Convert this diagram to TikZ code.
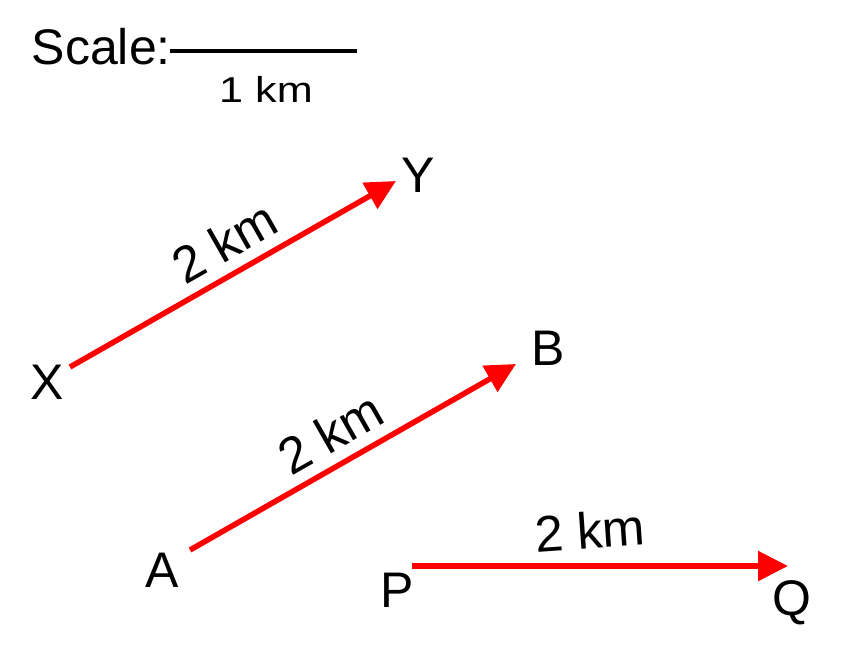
\documentclass[tikz,border=0pt]{standalone}
\usepackage{fontspec}
\setmainfont{Liberation Sans}
\usetikzlibrary{arrows.meta}
\begin{document}
\begin{tikzpicture}[x=1pt,y=-1pt,
  lbl/.style={inner sep=0pt,font=\fontsize{50}{60}\selectfont},
  dist/.style={inner sep=0pt,font=\fontsize{51}{60}\selectfont},
  vec/.style={draw=red,line width=5.5pt,-{Triangle[length=30pt,width=29pt]}}]
\useasboundingbox (0,0) rectangle (843,664);
% scale bar
\node[lbl,anchor=east] (scale) at (171,47) {Scale:};
\coordinate (s1) at (170,51);
\coordinate (s2) at (357,51);
\draw[line width=4.5pt] (s1) -- (s2);
\node[inner sep=0pt,font=\fontsize{36}{44}\selectfont,xscale=1.2] (onekm) at (266,89.5) {1 km};
% X -> Y
\node[lbl] (X) at (47,382) {X};
\node[lbl] (Y) at (418,175) {Y};
\coordinate (x0) at (70,367);
\coordinate (y0) at (396,181);
\draw[vec] (x0) -- (y0);
\node[dist,rotate=29.7] (lxy) at (224,242) {2 km};
% A -> B
\node[lbl] (A) at (162,570) {A};
\node[lbl] (B) at (548,348) {B};
\coordinate (a0) at (190,550);
\coordinate (b0) at (516,364);
\draw[vec] (a0) -- (b0);
\node[dist,rotate=29.7] (lab) at (330,433) {2 km};
% P -> Q
\node[lbl] (P) at (397,590) {P};
\node[lbl] (Q) at (792,603) {Q};
\coordinate (p0) at (412,566);
\coordinate (q0) at (788,566);
\draw[vec] (p0) -- (q0);
\node[dist,rotate=4] (lpq) at (590,530) {2 km};
\end{tikzpicture}
\end{document}
